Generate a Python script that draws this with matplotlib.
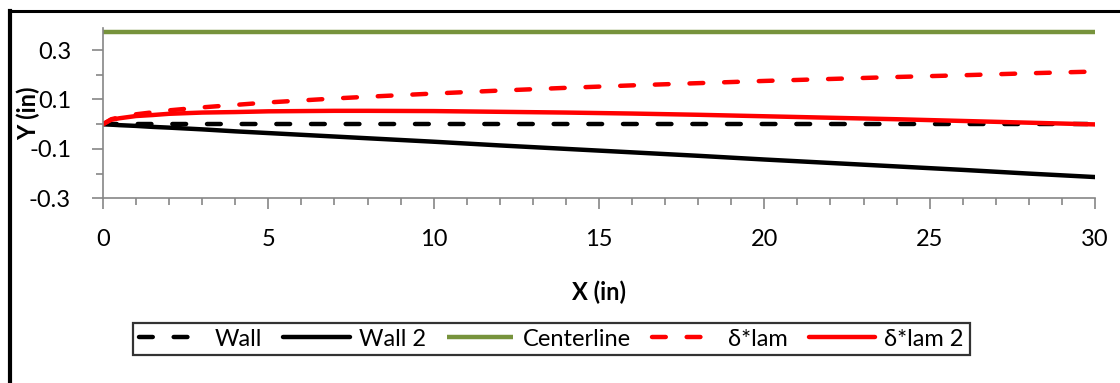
import matplotlib
matplotlib.use("Agg")
import matplotlib.pyplot as plt
from matplotlib.lines import Line2D
from matplotlib.ticker import MultipleLocator, FixedLocator

plt.rcParams['font.family'] = ['Lato', 'DejaVu Sans']

# Data
x = [0, 0.25, 0.5, 1, 1.5, 2, 3, 4, 5, 6, 7, 8, 10, 12, 14, 16, 18, 20, 22, 24, 26, 28, 30]
wall = [0.0] * len(x)
wall2 = [0, -0.002, -0.004, -0.007, -0.011, -0.014, -0.021, -0.029, -0.036, -0.043, -0.050,
         -0.057, -0.071, -0.086, -0.100, -0.114, -0.128, -0.143, -0.157, -0.171, -0.185,
         -0.200, -0.214]
centerline = [0.375] * len(x)
dstar_lam = [0, 0.020, 0.028, 0.040, 0.048, 0.056, 0.068, 0.078, 0.088, 0.096, 0.104,
             0.111, 0.124, 0.136, 0.147, 0.157, 0.166, 0.175, 0.183, 0.191, 0.198,
             0.206, 0.213]
dstar_lam2 = [0, 0.018, 0.024, 0.033, 0.037, 0.042, 0.047, 0.049, 0.052, 0.053, 0.054,
              0.054, 0.053, 0.050, 0.047, 0.043, 0.038, 0.032, 0.026, 0.020, 0.013,
              0.006, -0.001]

W, H = 1120, 383
fig = plt.figure(figsize=(W / 100, H / 100), dpi=100)
ax = fig.add_axes([103 / W, 1 - 198.3 / H, (1095 - 103) / W, (198.3 - 28.3) / H])

lw = 3.2
dash = (0, (3.1, 4.7))
ax.plot(x, wall, color='black', lw=lw, linestyle=dash, dash_capstyle='round', label='Wall')
ax.plot(x, wall2, color='black', lw=lw, solid_capstyle='round', label='Wall 2')
ax.plot(x, centerline, color='#77933C', lw=lw, solid_capstyle='butt', label='Centerline')
ax.plot(x, dstar_lam, color='#FF0000', lw=lw, linestyle=dash, dash_capstyle='round', label='δ*lam')
ax.plot(x, dstar_lam2, color='#FF0000', lw=lw, solid_capstyle='round', label='δ*lam 2')

ax.set_xlim(0, 30)
ax.set_ylim(-0.3, 0.388)
ax.xaxis.set_major_locator(MultipleLocator(5))
ax.xaxis.set_minor_locator(MultipleLocator(1))
ax.yaxis.set_major_locator(FixedLocator([-0.3, -0.1, 0.1, 0.3]))
ax.yaxis.set_minor_locator(FixedLocator([-0.2, 0.0, 0.2]))
ax.set_yticklabels(['-0.3', '-0.1', '0.1', '0.3'])

for s in ['top', 'right']:
    ax.spines[s].set_visible(False)
for s in ['left', 'bottom']:
    ax.spines[s].set_color('#868686')
    ax.spines[s].set_linewidth(1.2)

fs = 17
ax.tick_params(axis='both', which='major', direction='out', length=8, width=1.2,
               color='#868686', labelsize=fs, labelcolor='black')
ax.tick_params(axis='both', which='minor', direction='out', length=5, width=1.2,
               color='#868686')
ax.tick_params(axis='x', which='major', pad=14)
ax.tick_params(axis='y', which='major', pad=15)

fig.text(598.5 / W, 1 - 292.5 / H, 'X (in)', ha='center', va='center',
         fontsize=fs, fontweight='bold')
fig.text(28 / W, 1 - 113 / H, 'Y (in)', ha='center', va='center', rotation=90,
         fontsize=fs, fontweight='bold')

leg = fig.legend(loc='center', bbox_to_anchor=(551.5 / W, 1 - 339 / H), ncol=5,
                 fontsize=fs, frameon=True, fancybox=False, edgecolor='black',
                 handlelength=2.8, handletextpad=0.4, columnspacing=0.9,
                 borderpad=0.25)
leg.get_frame().set_linewidth(1.6)

# outer frame (left and top edges visible)
fig.add_artist(Line2D([10 / W, 10 / W], [0, 1 - 11 / H], transform=fig.transFigure,
                      color='black', lw=3, solid_capstyle='projecting'))
fig.add_artist(Line2D([10 / W, 1], [1 - 11 / H, 1 - 11 / H], transform=fig.transFigure,
                      color='black', lw=2.2, solid_capstyle='projecting'))

fig.savefig('out.png', dpi=100)
